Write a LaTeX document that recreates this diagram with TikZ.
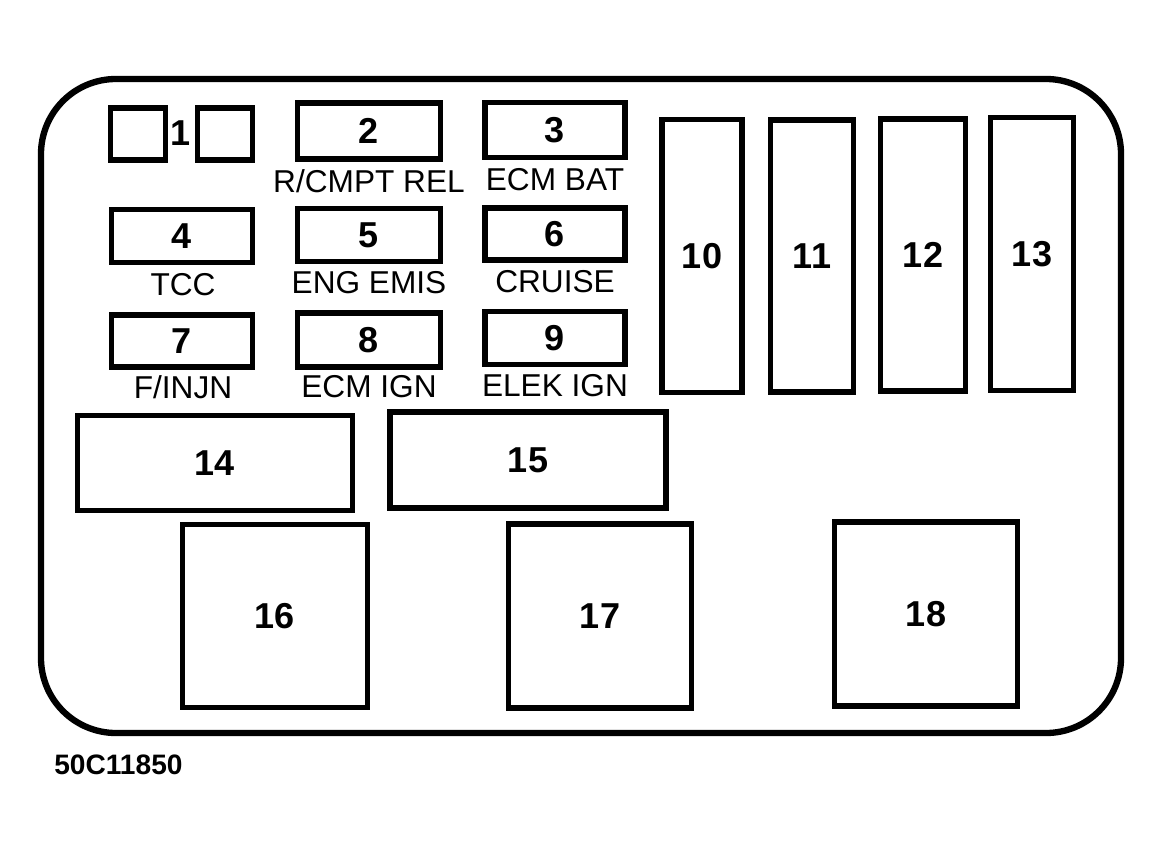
\documentclass[tikz,border=0pt]{standalone}
\usepackage{fontspec}
\setmainfont{Liberation Sans}

\tikzset{
  fuse/.style 2 args={draw, line width=3.3pt, inner sep=0pt,
    minimum width=#1*0.02cm, minimum height=#2*0.02cm,
    font=\fontsize{20.5}{24}\selectfont\bfseries},
  lbl/.style={inner sep=0pt, font=\fontsize{18}{21}\selectfont},
  num/.style={inner sep=0pt, font=\fontsize{20.5}{24}\selectfont\bfseries}
}

\begin{document}
\begin{tikzpicture}[x=0.02cm, y=-0.02cm]
    \useasboundingbox (0,0) rectangle (1163,848);

    % -----------------------------------------------------
    % 1) Caja exterior con esquinas redondeadas
    % -----------------------------------------------------
    \draw[line width=3.6pt, rounded corners=1.5cm] (41,79) rectangle (1121,733);

    % -----------------------------------------------------
    % 2) Fusible 1: dos cuadrados con el numero en medio
    % -----------------------------------------------------
    \node[fuse={55}{52}] (f1a) at (138,134) {};
    \node[fuse={55}{52}] (f1b) at (225,134) {};
    \node[num] (n1) at (181,133) {1};

    % -----------------------------------------------------
    % 3) Fusibles 2 a 9 con sus etiquetas
    % -----------------------------------------------------
    \node[fuse={143}{56}] (f2) at (369,131) {2};
    \node[lbl] (l2) at (369,181) {R/CMPT REL};
    \node[fuse={140}{55}] (f3) at (555,130) {3};
    \node[lbl] (l3) at (555,180) {ECM BAT};

    \node[fuse={141}{53}] (f4) at (182,236) {4};
    \node[lbl] (l4) at (183,285) {TCC};
    \node[fuse={143}{53}] (f5) at (369,235) {5};
    \node[lbl] (l5) at (369,283) {ENG EMIS};
    \node[fuse={140}{52}] (f6) at (555,234) {6};
    \node[lbl] (l6) at (555,282) {CRUISE};

    \node[fuse={141}{52}] (f7) at (182,341) {7};
    \node[lbl] (l7) at (183,387) {F/INJN};
    \node[fuse={143}{54}] (f8) at (369,340) {8};
    \node[lbl] (l8) at (369,387) {ECM IGN};
    \node[fuse={140}{53}] (f9) at (555,338) {9};
    \node[lbl] (l9) at (555,386) {ELEK IGN};

    % -----------------------------------------------------
    % 4) Fusibles verticales 10 a 13
    % -----------------------------------------------------
    \node[fuse={80}{273}] (f10) at (702,256) {10};
    \node[fuse={83}{272}] (f11) at (812,256) {11};
    \node[fuse={85}{272}] (f12) at (923,255) {12};
    \node[fuse={83}{273}] (f13) at (1032,254) {13};

    % -----------------------------------------------------
    % 5) Bloques grandes 14 y 15, reles 16 a 18
    % -----------------------------------------------------
    \node[fuse={275}{95}] (f14) at (215,463) {14};
    \node[fuse={276}{96}] (f15) at (528,460) {15};

    \node[fuse={185}{183}] (r16) at (275,616) {16};
    \node[fuse={183}{184}] (r17) at (600,616) {17};
    \node[fuse={183}{184}] (r18) at (926,614) {18};

    % -----------------------------------------------------
    % 6) Codigo de la figura
    % -----------------------------------------------------
    \node[inner sep=0pt, anchor=west, font=\fontsize{16}{19}\selectfont\bfseries] (code) at (54,765) {50C11850};

\end{tikzpicture}
\end{document}
